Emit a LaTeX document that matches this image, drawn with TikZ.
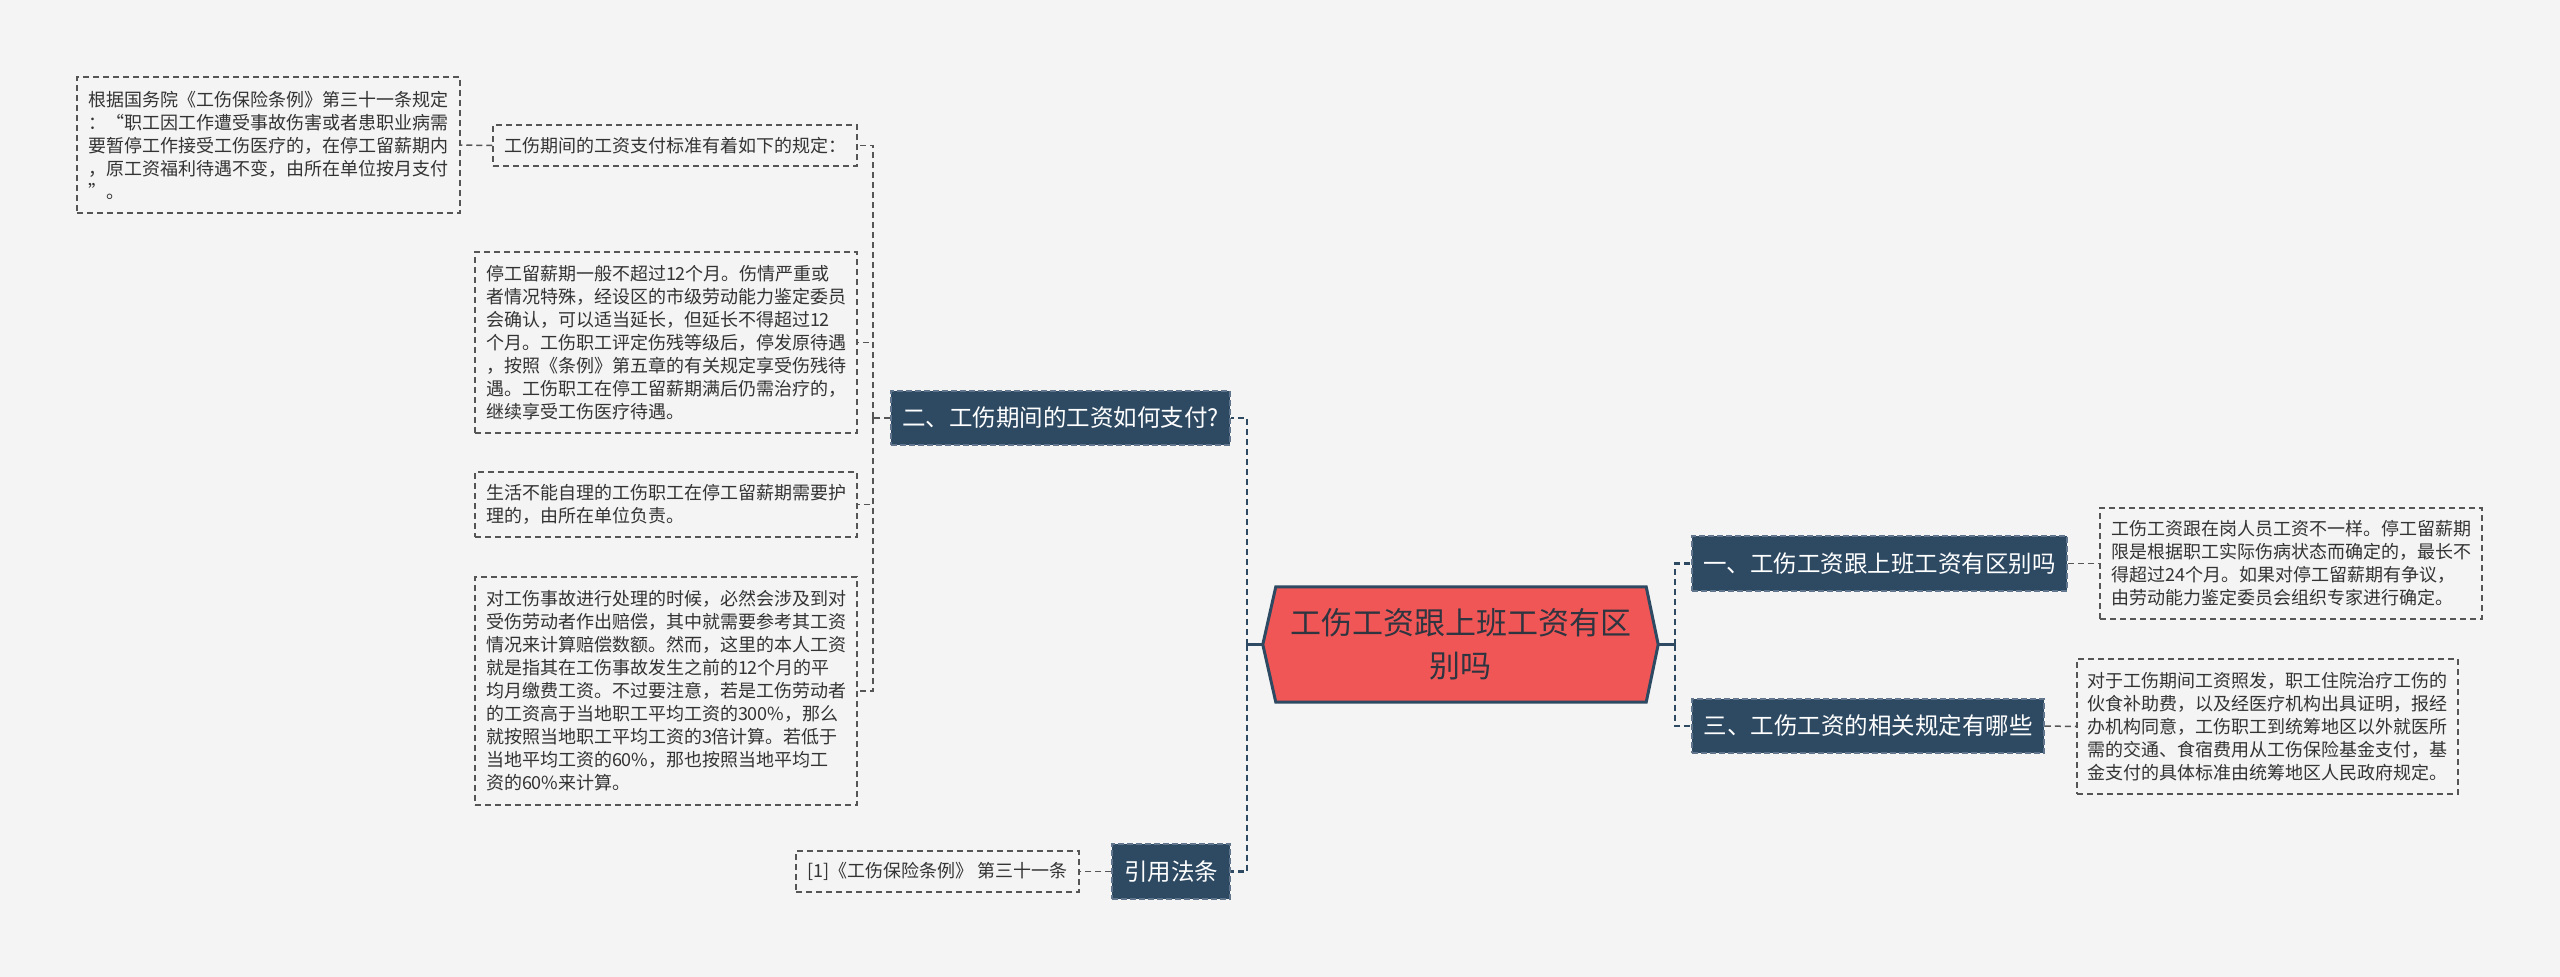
\documentclass[tikz,border=0pt]{standalone}
\usepackage{fontspec}
\setmainfont{Noto Sans CJK SC}
\usetikzlibrary{calc}
\definecolor{bg}{HTML}{F4F4F4}
\definecolor{navy}{HTML}{2E4A63}
\definecolor{rootred}{HTML}{F05656}
\definecolor{rootdark}{HTML}{2F3540}
\definecolor{leafline}{HTML}{555555}
\definecolor{leaftext}{HTML}{333333}
\definecolor{navyborder}{HTML}{61768C}
\tikzset{
  leaf/.style={draw=leafline, line width=1.5pt, dash pattern=on 6pt off 4pt, text=leaftext,
    font=\fontsize{18}{23}\selectfont, align=left, inner xsep=10pt, inner ysep=0pt, anchor=center},
  branch/.style={fill=navy, draw=navyborder, line width=1.5pt, dash pattern=on 6pt off 3pt,
    text=white, font=\fontsize{23.5}{28}\selectfont, inner sep=0pt, anchor=center},
  link/.style={draw=leafline, line width=1.5pt, dash pattern=on 6pt off 4pt},
  spine/.style={draw=navy, line width=2.5pt, dash pattern=on 6pt off 4pt},
  stub/.style={draw=navy, line width=2.5pt},
}
\begin{document}
\begin{tikzpicture}[x=1pt,y=-1pt]
\fill[bg] (0,0) rectangle (2560,977);
\useasboundingbox (0,0) rectangle (2560,977);

% root
\node[inner sep=0pt, minimum width=395pt, minimum height=115pt] (root) at (1460.5,644.5) {};
\draw[fill=rootred, draw=navy, line width=3pt, line join=miter]
  (root.west) -- ($(root.north west)+(13,0)$) -- ($(root.north east)+(-12,0)$) -- (root.east)
  -- ($(root.south east)+(-12,0)$) -- ($(root.south west)+(13,0)$) -- cycle;
\node[font=\fontsize{31}{43}\selectfont, text=rootdark, align=center, inner sep=0pt] (rootlabel) at (root.center) {工伤工资跟上班工资有区\\别吗};

% branches
\node[branch, minimum width=375pt, minimum height=55pt] (b1) at (1879.5,563.5) {一、工伤工资跟上班工资有区别吗};
\node[branch, minimum width=352pt, minimum height=54pt] (b3) at (1868,726) {三、工伤工资的相关规定有哪些};
\node[branch, minimum width=339pt, minimum height=54pt] (b2) at (1060.5,418) {二、工伤期间的工资如何支付?};
\node[branch, minimum width=118pt, minimum height=55pt] (b4) at (1171,871.5) {引用法条};

% leaves
\node[leaf, minimum width=382pt, minimum height=111pt] (G) at (2291,563.5) {工伤工资跟在岗人员工资不一样。停工留薪期\\限是根据职工实际伤病状态而确定的，最长不\\得超过24个月。如果对停工留薪期有争议，\\由劳动能力鉴定委员会组织专家进行确定。};
\node[leaf, minimum width=381pt, minimum height=135pt] (H) at (2267.5,726.5) {对于工伤期间工资照发，职工住院治疗工伤的\\伙食补助费，以及经医疗机构出具证明，报经\\办机构同意，工伤职工到统筹地区以外就医所\\需的交通、食宿费用从工伤保险基金支付，基\\金支付的具体标准由统筹地区人民政府规定。};
\node[leaf, minimum width=364pt, minimum height=41pt] (B) at (675,145.5) {工伤期间的工资支付标准有着如下的规定：};
\node[leaf, minimum width=383pt, minimum height=136pt] (A) at (268.5,145) {根据国务院《工伤保险条例》第三十一条规定\\：“职工因工作遭受事故伤害或者患职业病需\\要暂停工作接受工伤医疗的，在停工留薪期内\\，原工资福利待遇不变，由所在单位按月支付\\”。};
\node[leaf, minimum width=382pt, minimum height=181pt] (C) at (666,342.5) {停工留薪期一般不超过12个月。伤情严重或\\者情况特殊，经设区的市级劳动能力鉴定委员\\会确认，可以适当延长，但延长不得超过12\\个月。工伤职工评定伤残等级后，停发原待遇\\，按照《条例》第五章的有关规定享受伤残待\\遇。工伤职工在停工留薪期满后仍需治疗的，\\继续享受工伤医疗待遇。};
\node[leaf, minimum width=382pt, minimum height=65pt] (D) at (666,504.5) {生活不能自理的工伤职工在停工留薪期需要护\\理的，由所在单位负责。};
\node[leaf, minimum width=382pt, minimum height=228pt] (E) at (666,691) {对工伤事故进行处理的时候，必然会涉及到对\\受伤劳动者作出赔偿，其中就需要参考其工资\\情况来计算赔偿数额。然而，这里的本人工资\\就是指其在工伤事故发生之前的12个月的平\\均月缴费工资。不过要注意，若是工伤劳动者\\的工资高于当地职工平均工资的300\%，那么\\就按照当地职工平均工资的3倍计算。若低于\\当地平均工资的60\%，那也按照当地平均工\\资的60\%来计算。};
\node[leaf, minimum width=283pt, minimum height=41pt] (F) at (937.5,871.5) {[1]《工伤保险条例》 第三十一条};

% connectors
\coordinate (L) at (1247,644.5);
\coordinate (R) at (1675,644.5);
\coordinate (M) at (873,418);
\draw[stub] (root.west) -- (L);
\draw[spine] (L) |- (b2.east);
\draw[spine] (L) |- (b4.east);
\draw[stub] (root.east) -- (R);
\draw[spine] (R) |- (b1.west);
\draw[spine] (R) |- (b3.west);
\draw[link] (b1.east) -- (G.west);
\draw[link] (b3.east) -- (H.west);
\draw[link] (b4.west) -- (F.east);
\draw[link] (b2.west) -- (M);
\draw[link] (M) |- (B.east);
\draw[link] (M) |- (C.east);
\draw[link] (M) |- (D.east);
\draw[link] (M) |- (E.east);
\draw[link] (B.west) -- (A.east);
\end{tikzpicture}
\end{document}
